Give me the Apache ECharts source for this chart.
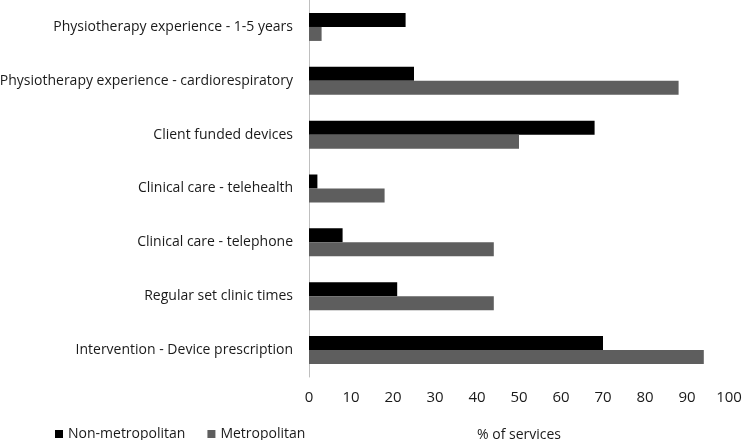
<!DOCTYPE html>
<html>
<head>
<meta charset="utf-8">
<script src="https://cdn.jsdelivr.net/npm/echarts@6/dist/echarts.min.js"></script>
<style>html,body{margin:0;padding:0;background:#fff}#c{width:742px;height:440px}</style>
</head>
<body>
<div id="c"></div>
<script>
const categories = [
  'Physiotherapy experience - 1-5 years',
  'Physiotherapy experience - cardiorespiratory',
  'Client funded devices',
  'Clinical care - telehealth',
  'Clinical care - telephone',
  'Regular set clinic times',
  'Intervention - Device prescription'
];
const nonMetropolitan = [23, 25, 68, 2, 8, 21, 70];
const metropolitan = [3, 88, 50, 18, 44, 44, 94];
const xTicks = [0, 10, 20, 30, 40, 50, 60, 70, 80, 90, 100];

const font = 'Open Sans';
const txt = '#1a1a1a';
const chart = echarts.init(document.getElementById('c'), null, {renderer: 'canvas'});
chart.setOption({
  animation: false,
  textStyle: {fontFamily: font},
  grid: {left: 309, right: 13, top: 0, bottom: 63, containLabel: false, outerBoundsMode: 'none'},
  legend: {
    left: 50, top: 422,
    icon: 'rect', itemWidth: 8, itemHeight: 8, itemGap: 22,
    textStyle: {fontFamily: font, fontSize: 14, color: txt},
    data: ['Non-metropolitan', 'Metropolitan']
  },
  xAxis: {
    type: 'value', min: xTicks[0], max: xTicks[xTicks.length - 1], interval: 10,
    name: '% of services', nameLocation: 'middle', nameGap: 51,
    nameTextStyle: {fontFamily: font, fontSize: 14, color: txt},
    axisLine: {show: false}, axisTick: {show: false}, splitLine: {show: false},
    axisLabel: {fontFamily: font, fontSize: 15, color: txt, margin: 13}
  },
  yAxis: {
    type: 'category', data: categories, inverse: true,
    axisLine: {show: true, lineStyle: {color: '#bfbfbf', width: 1}},
    axisTick: {show: false},
    axisLabel: {fontFamily: font, fontSize: 14, color: txt, margin: 16}
  },
  series: [
    {name: 'Non-metropolitan', type: 'bar', data: nonMetropolitan, barWidth: 14, barGap: '0%',
     itemStyle: {color: '#000000'}},
    {name: 'Metropolitan', type: 'bar', data: metropolitan, barWidth: 14, barGap: '0%',
     itemStyle: {color: '#5e5e5e'}}
  ]
});
</script>
</body>
</html>
